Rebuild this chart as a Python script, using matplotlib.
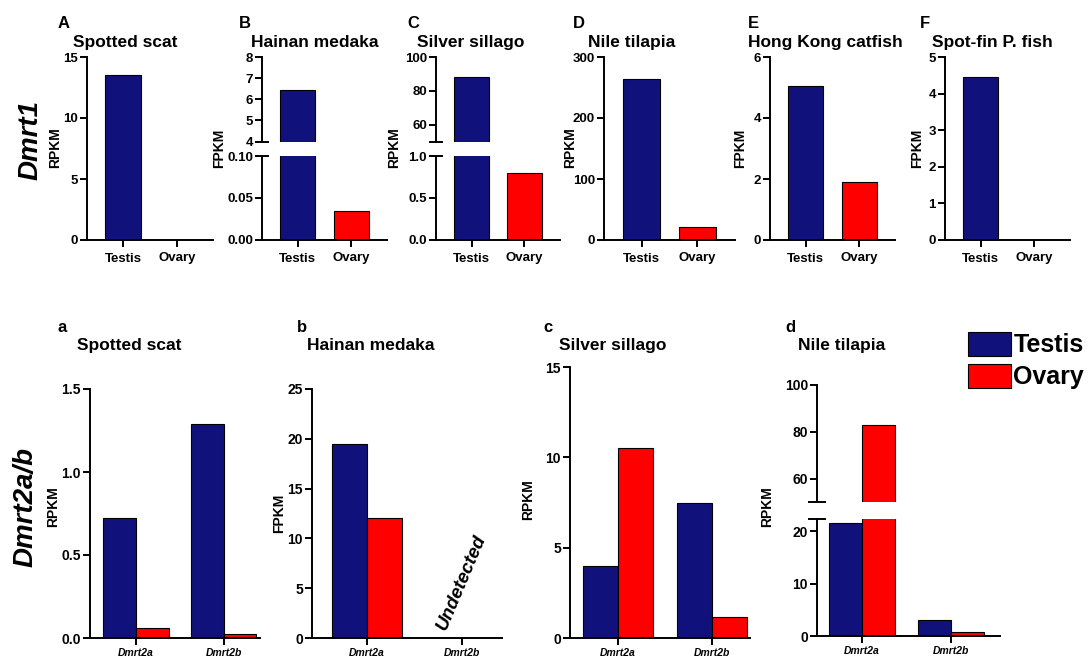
import numpy as np
import matplotlib
matplotlib.use('Agg')
import matplotlib.pyplot as plt

plt.rcParams['font.family'] = ['Liberation Sans', 'DejaVu Sans']
plt.rcParams['font.weight'] = 'bold'
plt.rcParams['axes.linewidth'] = 1.4

# data
tissues = ['Testis', 'Ovary']
genes = ['Dmrt2a', 'Dmrt2b']

dmrt1_species = ['Spotted scat', 'Hainan medaka', 'Silver sillago',
                 'Nile tilapia', 'Hong Kong catfish', 'Spot-fin P. fish']
dmrt1_letters = ['A', 'B', 'C', 'D', 'E', 'F']
dmrt1_units = ['RPKM', 'FPKM', 'RPKM', 'RPKM', 'FPKM', 'FPKM']
dmrt1_testis = [13.5, 6.45, 88.3, 264, 5.05, 4.45]
dmrt1_ovary = [0, 0.035, 0.80, 21, 1.91, 0]

dmrt2_species = ['Spotted scat', 'Hainan medaka', 'Silver sillago', 'Nile tilapia']
dmrt2_letters = ['a', 'b', 'c', 'd']
dmrt2_units = ['RPKM', 'FPKM', 'RPKM', 'RPKM']
dmrt2_testis = [[0.72, 1.29], [19.5, 0], [4.0, 7.5], [21.5, 3.0]]
dmrt2_ovary = [[0.058, 0.024], [12.0, 0], [10.5, 1.15], [83, 0.8]]

c_testis = '#11117c'
c_ovary = '#ff0000'

W, H = 1088, 659
fig = plt.figure(figsize=(W / 100, H / 100), dpi=100)


def box(x0, x1, ytop, ybot):
    return [x0 / W, 1 - ybot / H, (x1 - x0) / W, (ybot - ytop) / H]


def style(ax, size):
    ax.spines['top'].set_visible(False)
    ax.spines['right'].set_visible(False)
    ax.tick_params(direction='out', length=5, width=1.4, labelsize=size, pad=1.5)


def brk(ax, y):
    ax.plot([-0.045, 0.045], [y, y], transform=ax.transAxes, color='black',
            lw=1.4, clip_on=False)


# ---------- top row: Dmrt1 ----------
# (left px, right px, ylabel x px, title x px, letter x px)
top_pos = [(87, 213, 55, 73, 58), (262, 387, 219, 251, 239), (436, 560, 394, 417, 407),
           (604, 735, 570, 588, 573), (770, 895, 740, 748, 748), (945, 1070, 917, 932, 920)]
# broken axes: {index: (lower ylim, lower ticks, lower labels, upper ylim, upper ticks)}
top_breaks = {1: ((0, 0.10), [0, 0.05, 0.10], ['0.00', '0.05', '0.10'], (4, 8), [4, 5, 6, 7, 8]),
              2: ((0, 1.0), [0, 0.5, 1.0], ['0.0', '0.5', '1.0'], (50, 100), [60, 80, 100])}
top_ylims = {0: (0, 15), 3: (0, 300), 4: (0, 6), 5: (0, 5)}
top_ticks = {0: [0, 5, 10, 15], 3: [0, 100, 200, 300], 4: [0, 2, 4, 6], 5: [0, 1, 2, 3, 4, 5]}

for i in range(6):
    x0, x1, lx, tx, px = top_pos[i]
    vals = [dmrt1_testis[i], dmrt1_ovary[i]]
    if i in top_breaks:
        lo, lot, lol, up, upt = top_breaks[i]
        axl = fig.add_axes(box(x0, x1, 156, 240))
        axu = fig.add_axes(box(x0, x1, 57, 141.5), sharex=axl)
        for ax in (axl, axu):
            ax.bar([0, 1], vals, width=0.66, color=[c_testis, c_ovary],
                   edgecolor='black', linewidth=0.8)
            style(ax, 9.5)
        axl.set_ylim(*lo)
        axl.set_yticks(lot)
        axl.set_yticklabels(lol)
        axu.set_ylim(*up)
        axu.set_yticks(upt)
        axu.spines['bottom'].set_visible(False)
        axu.tick_params(axis='x', bottom=False, labelbottom=False)
        brk(axu, 0)
        brk(axl, 1)
        ax = axl
    else:
        ax = fig.add_axes(box(x0, x1, 57, 240))
        ax.bar([0, 1], vals, width=0.66, color=[c_testis, c_ovary],
               edgecolor='black', linewidth=0.8)
        style(ax, 9.5)
        ax.set_ylim(*top_ylims[i])
        ax.set_yticks(top_ticks[i])
    ax.set_xlim(-0.67, 1.67)
    ax.set_xticks([0, 1])
    ax.set_xticklabels(tissues, fontsize=9.5)
    ax.tick_params(axis='x', pad=4)
    fig.text(lx / W, 1 - 148 / H, dmrt1_units[i], rotation=90, ha='center',
             va='center', fontsize=10)
    fig.text(px / W, 1 - 28 / H, dmrt1_letters[i], fontsize=12)
    fig.text(tx / W, 1 - 47 / H, dmrt1_species[i], fontsize=12.5)

fig.text(31 / W, 1 - 140 / H, 'Dmrt1', rotation=90, ha='center', va='center',
         fontsize=20, style='italic')

# ---------- bottom row: Dmrt2a/b ----------
# (left px, right px, top px, ylabel x, ylabel y, title x, letter x)
bot_pos = [(90, 260, 389, 53, 507, 77, 57), (312, 502, 389, 279, 513, 307, 297),
           (570, 750, 367, 528, 500, 559, 543), (817, 1000, 385, 767, 507, 798, 785)]
bot_xlims = [(-0.523, 1.41), (-0.58, 1.42), (-0.51, 1.40), (-0.506, 1.55)]
bot_ylims = [(0, 1.5), (0, 25), (0, 15)]
bot_ticks = [[0, 0.5, 1.0, 1.5], [0, 5, 10, 15, 20, 25], [0, 5, 10, 15]]
bot_labels = [['0.0', '0.5', '1.0', '1.5'], None, None]
bw = 0.37
gx = np.arange(2)

for i in range(4):
    x0, x1, yt, lx, ly, tx, px = bot_pos[i]
    if i == 3:
        axl = fig.add_axes(box(x0, x1, 519, 636))
        axu = fig.add_axes(box(x0, x1, 385, 502), sharex=axl)
        for ax in (axl, axu):
            ax.bar(gx - bw / 2, dmrt2_testis[i], width=bw, color=c_testis,
                   edgecolor='black', linewidth=0.8, label='Testis')
            ax.bar(gx + bw / 2, dmrt2_ovary[i], width=bw, color=c_ovary,
                   edgecolor='black', linewidth=0.8, label='Ovary')
            style(ax, 10)
        axl.set_ylim(0, 22.3)
        axl.set_yticks([0, 10, 20])
        axu.set_ylim(50, 100)
        axu.set_yticks([60, 80, 100])
        axu.spines['bottom'].set_visible(False)
        axu.tick_params(axis='x', bottom=False, labelbottom=False)
        brk(axu, 0)
        brk(axl, 1)
        ax = axl
        handles, labs = ax.get_legend_handles_labels()
    else:
        ax = fig.add_axes(box(x0, x1, yt, 638))
        ax.bar(gx - bw / 2, dmrt2_testis[i], width=bw, color=c_testis,
               edgecolor='black', linewidth=0.8)
        ax.bar(gx + bw / 2, dmrt2_ovary[i], width=bw, color=c_ovary,
               edgecolor='black', linewidth=0.8)
        style(ax, 10)
        ax.set_ylim(*bot_ylims[i])
        ax.set_yticks(bot_ticks[i])
        if bot_labels[i] is not None:
            ax.set_yticklabels(bot_labels[i])
    ax.set_xlim(*bot_xlims[i])
    ax.set_xticks(gx)
    ax.set_xticklabels(genes, fontsize=7.5, style='italic')
    ax.tick_params(axis='x', pad=2)
    fig.text(lx / W, 1 - ly / H, dmrt2_units[i], rotation=90, ha='center',
             va='center', fontsize=10)
    fig.text(px / W, 1 - 332 / H, dmrt2_letters[i], fontsize=12)
    fig.text(tx / W, 1 - 350 / H, dmrt2_species[i], fontsize=12.5)
    if i == 1:
        ax.text(1, 5.6, 'Undetected', rotation=67, ha='center', va='center',
                fontsize=13.5, style='italic')

fig.text(26 / W, 1 - 507 / H, 'Dmrt2a/b', rotation=90, ha='center', va='center',
         fontsize=20, style='italic')

fig.legend(handles, labs, loc='upper left', bbox_to_anchor=(968 / W, 1 - 332 / H),
           frameon=False, fontsize=18, handlelength=1.7, handleheight=1.1,
           handletextpad=0.12, labelspacing=0.25, borderpad=0, borderaxespad=0)

fig.savefig('out.png', dpi=100)
